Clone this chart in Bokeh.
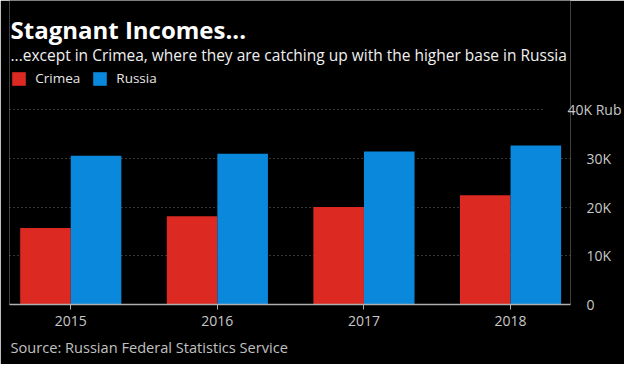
from bokeh.plotting import figure
from bokeh.models import (ColumnDataSource, Range1d, FixedTicker, Legend, LegendItem,
                          LinearAxis, Grid, Label, Title)
from bokeh.transform import dodge
from bokeh.embed import file_html
from bokeh.resources import INLINE

# ---- data ----
years = ["2015", "2016", "2017", "2018"]
crimea = [15700, 18100, 20000, 22400]
russia = [30500, 30900, 31400, 32600]
y_ticks = [0, 10000, 20000, 30000, 40000]
y_tick_labels = ["0", "10K", "20K", "30K", "40K Rub"]

title_text = "Stagnant Incomes..."
subtitle_text = "...except in Crimea, where they are catching up with the higher base in Russia"
source_text = "Source: Russian Federal Statistics Service"

RED = "#dc2a22"
BLUE = "#0a88dc"
FONT = "Open Sans"
TICK_COLOR = "#c8c8c8"

idx = list(range(len(years)))
src = ColumnDataSource(dict(x=idx, crimea=crimea, russia=russia))

BW = 0.345
X0, X1 = -0.418, 3.409
# frame spans the whole height above the baseline; 40K sits 195px above 0
Y_TOP = y_ticks[-1] * 304 / 195

p = figure(width=624, height=364,
           x_range=Range1d(X0, X1), y_range=Range1d(y_ticks[0], Y_TOP),
           output_backend="svg", toolbar_location=None, title_location=None,
           y_axis_location="right", min_border=0,
           min_border_left=9, min_border_right=49, min_border_top=0, min_border_bottom=60,
           background_fill_color="black", border_fill_color="black", outline_line_color=None)

r1 = p.vbar(x=dodge("x", -BW / 2, range=p.x_range), top="crimea", width=BW, source=src,
            fill_color=RED, line_color=None)
r2 = p.vbar(x=dodge("x", BW / 2, range=p.x_range), top="russia", width=BW, source=src,
            fill_color=BLUE, line_color=None)

# ---- x axis ----
xa = p.xaxis[0]
xa.ticker = FixedTicker(ticks=idx)
xa.major_label_overrides = {i: y for i, y in zip(idx, years)}
xa.axis_line_color = "#b0b0b0"
xa.axis_line_width = 1.5
xa.major_tick_line_color = "#b0b0b0"
xa.major_tick_out = 5
xa.major_tick_in = 0
xa.minor_tick_line_color = None
xa.major_label_text_color = TICK_COLOR
xa.major_label_text_font = FONT
xa.major_label_text_font_size = "14px"
xa.major_label_standoff = 6

# source line under the axis
p.add_layout(Title(text=source_text, align="left", offset=1, standoff=12,
                   vertical_align="bottom", text_color="#c0c0c0", text_font=FONT,
                   text_font_size="14.6px", text_font_style="normal"), "below")

# ---- y axis (right) ----
ya = p.yaxis[0]
ya.ticker = FixedTicker(ticks=y_ticks[:-1])
ya.major_label_overrides = {t: l for t, l in zip(y_ticks[:-1], y_tick_labels[:-1])}
ya.axis_line_color = None
ya.major_tick_line_color = None
ya.minor_tick_line_color = None
ya.major_label_text_color = TICK_COLOR
ya.major_label_text_font = FONT
ya.major_label_text_font_size = "14px"
ya.major_label_standoff = 10

ya2 = LinearAxis(ticker=FixedTicker(ticks=y_ticks[-1:]),
                 major_label_overrides={y_ticks[-1]: y_tick_labels[-1]},
                 axis_line_color=None, major_tick_line_color=None, minor_tick_line_color=None,
                 major_label_text_color=TICK_COLOR, major_label_text_font=FONT,
                 major_label_text_font_size="14px", major_label_standoff=-53)
p.add_layout(ya2, "right")

# ---- grid ----
p.xgrid.grid_line_color = None
p.ygrid.ticker = FixedTicker(ticks=y_ticks[:-1])
p.ygrid.grid_line_color = "#6a6a6a"
p.ygrid.grid_line_dash = "1 3"
p.ygrid.grid_line_width = 1

g40 = Grid(dimension=1, ticker=FixedTicker(ticks=y_ticks[-1:]),
           grid_line_color="#6a6a6a", grid_line_dash="1 3", grid_line_width=1)
if "cross_bounds" in Grid.properties():
    g40.cross_bounds = (X0, 3.22)
p.add_layout(g40)

# ---- heading texts and legend (inside the tall frame, above the 40K line) ----
p.add_layout(Label(x=1, y=275, x_units="screen", y_units="screen", text=title_text,
                   text_color="white", text_font=FONT, text_font_style="bold",
                   text_font_size="24px", text_baseline="alphabetic"))
p.add_layout(Label(x=1, y=250, x_units="screen", y_units="screen", text=subtitle_text,
                   text_color="#f0f0f0", text_font=FONT,
                   text_font_size="15.5px", text_baseline="alphabetic"))

legend = Legend(items=[LegendItem(label="Crimea", renderers=[r1]),
                       LegendItem(label="Russia", renderers=[r2])],
                location=(1.3, 217), orientation="horizontal",
                background_fill_alpha=0, border_line_color=None,
                padding=0, margin=0, spacing=11, label_standoff=8,
                glyph_width=17, glyph_height=17, label_height=17,
                label_text_color="#e6e6e6", label_text_font=FONT, label_text_font_size="13.5px")
p.add_layout(legend, "center")

open("out.html", "w").write(file_html(p, INLINE))
